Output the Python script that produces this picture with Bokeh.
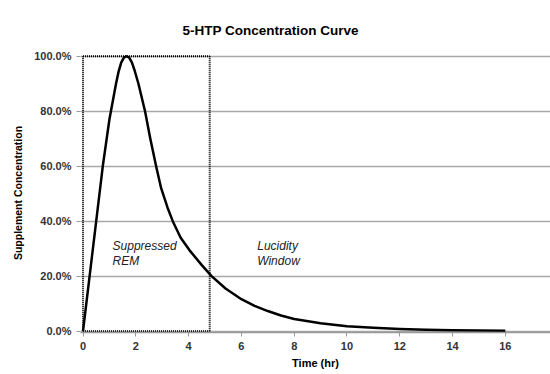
from bokeh.plotting import figure
from bokeh.models import FixedTicker, PrintfTickFormatter, Range1d
from bokeh.core.properties import value
from bokeh.embed import file_html
from bokeh.resources import INLINE

# ---- data ----
time_hr = [0, 0.25, 0.5, 0.75, 1.0, 1.25, 1.35, 1.45, 1.55, 1.65, 1.75, 1.85, 1.95,
           2.1, 2.35, 2.55, 2.77, 2.96, 3.2, 3.4, 3.7, 4.07, 4.5, 4.87, 5.4, 6.0,
           6.5, 7.0, 7.5, 8.0, 9.0, 10.0, 11.0, 12.0, 13.0, 14.0, 15.0, 16.0]
concentration_pct = [0, 20, 40, 60, 77, 90, 94.5, 97.8, 99.5, 100, 99.5, 97.8, 95,
                     90, 80, 70, 60, 52, 45, 40, 34, 29, 24, 20, 15.5, 11.6,
                     9.2, 7.3, 5.7, 4.4, 2.9, 1.8, 1.2, 0.8, 0.5, 0.3, 0.2, 0.1]

window_start = 0.0
window_end = 4.8
window_low = 0.0
window_high = 100.0

x_ticks = [0, 2, 4, 6, 8, 10, 12, 14, 16]
y_ticks = [0, 20, 40, 60, 80, 100]

title_text = "5-HTP Concentration Curve"
x_label = "Time (hr)"
y_label = "Supplement Concentration"
zone_labels = ["Suppressed\nREM", "Lucidity\nWindow"]
zone_label_x = [1.12, 6.6]
zone_label_y = [33.5, 33.5]

FONT = "Liberation Sans"

p = figure(width=550, height=374, output_backend="svg", toolbar_location=None,
           x_range=Range1d(-0.095, 17.71), y_range=Range1d(-0.5, 101),
           min_border_left=80, min_border_right=0, min_border_top=53,
           min_border_bottom=42, background_fill_color="white",
           border_fill_color="white", outline_line_color=None)

# title
p.title.text = title_text
p.title.text_font = FONT
p.title.text_font_size = "13.5px"
p.title.text_font_style = "bold"
p.title.text_color = "black"
p.title.align = "left"
p.title.offset = 102
p.title.standoff = 32

# grid
p.xgrid.grid_line_color = None
p.ygrid.ticker = FixedTicker(ticks=y_ticks)
p.ygrid.grid_line_color = "#a8a8a8"
p.ygrid.grid_line_width = 1.5

# axes
p.xaxis.ticker = FixedTicker(ticks=x_ticks)
p.yaxis.ticker = FixedTicker(ticks=y_ticks)
p.yaxis.formatter = PrintfTickFormatter(format="%.1f%%")
for ax in (p.xaxis, p.yaxis):
    ax.minor_tick_line_color = None
    ax.major_tick_in = 0
    ax.major_tick_out = 4
    ax.major_tick_line_color = "#999999"
    ax.major_label_text_font = FONT
    ax.major_label_text_font_size = "11px"
    ax.major_label_text_font_style = "bold"
    ax.major_label_text_color = "#333333"
    ax.axis_label_text_font = FONT
    ax.axis_label_text_font_style = "bold"
    ax.axis_label_text_color = "black"
p.xaxis.axis_line_color = "#999999"
p.xaxis.axis_line_width = 1.5
p.yaxis.axis_line_color = None
p.xaxis.axis_label = x_label
p.xaxis.axis_label_text_font_size = "11px"
p.xaxis.major_label_standoff = 5
p.xaxis.axis_label_standoff = 4
p.yaxis.axis_label = y_label
p.yaxis.axis_label_text_font_size = "10.5px"
p.yaxis.major_label_standoff = 5
p.yaxis.axis_label_standoff = 7

# dotted window box
dot = dict(line_color="black", line_width=2, line_dash="1 1")
p.line([window_start, window_end], [window_high, window_high], **dot)
p.line([window_start, window_end], [window_low, window_low], **dot)
p.line([window_start, window_start], [window_low, window_high], **dot)
p.line([window_end, window_end], [window_low, window_high], **dot)

# curve
p.line(time_hr, concentration_pct, line_color="black", line_width=2.5,
       line_join="round")

# zone labels
p.text(x=zone_label_x, y=zone_label_y, text=zone_labels,
       text_font=value(FONT), text_font_size="12px", text_font_style="italic",
       text_color="#222222", text_baseline="top", text_align="left",
       text_line_height=1.1)

open("out.html", "w").write(file_html(p, INLINE))
